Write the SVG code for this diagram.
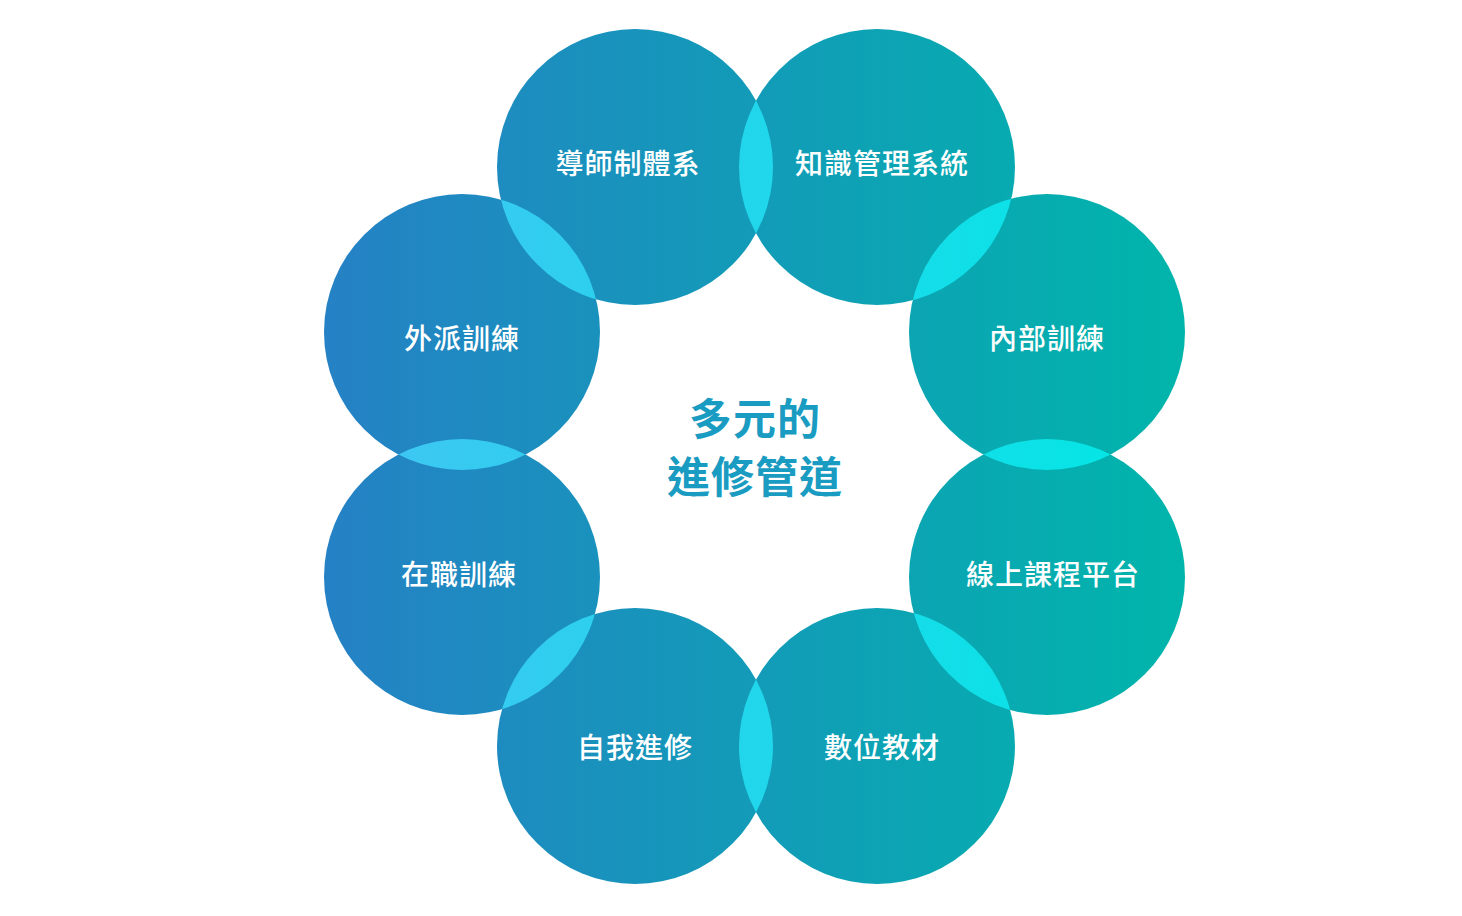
<svg xmlns="http://www.w3.org/2000/svg" width="1462" height="916" viewBox="0 0 1462 916">
<defs>
<linearGradient id="g" gradientUnits="userSpaceOnUse" x1="324" y1="0" x2="1185" y2="0">
<stop offset="0" stop-color="#2581c5"/>
<stop offset="1" stop-color="#00b5ab"/>
</linearGradient>
<linearGradient id="lg" gradientUnits="userSpaceOnUse" x1="324" y1="0" x2="1185" y2="0">
<stop offset="0" stop-color="#42c4f3"/>
<stop offset="1" stop-color="#00e8e4"/>
</linearGradient>
<clipPath id="cA"><circle cx="635" cy="167" r="138"/></clipPath>
<clipPath id="cB"><circle cx="877" cy="167" r="138"/></clipPath>
<clipPath id="cC"><circle cx="1047" cy="332" r="138"/></clipPath>
<clipPath id="cD"><circle cx="1047" cy="577" r="138"/></clipPath>
<clipPath id="cE"><circle cx="877" cy="746" r="138"/></clipPath>
<clipPath id="cF"><circle cx="635" cy="746" r="138"/></clipPath>
<clipPath id="cG"><circle cx="462" cy="577" r="138"/></clipPath>
<clipPath id="cH"><circle cx="462" cy="332" r="138"/></clipPath>
</defs>
<style>
.c{fill:url(#g)}
.l{fill:url(#lg)}
.t{fill:#ffffff;font-family:"Noto Sans CJK TC","Noto Sans CJK SC",sans-serif;font-size:28px;font-weight:500;text-anchor:middle;dominant-baseline:central;letter-spacing:1px}
.m{fill:#1a9cc2;font-family:"Noto Sans CJK TC","Noto Sans CJK SC",sans-serif;font-size:43px;font-weight:700;text-anchor:middle;dominant-baseline:central;letter-spacing:1px}
</style>
<g id="n1"><circle class="c" cx="635" cy="167" r="138"/></g>
<g id="n2"><circle class="c" cx="877" cy="167" r="138"/></g>
<g id="n3"><circle class="c" cx="1047" cy="332" r="138"/></g>
<g id="n4"><circle class="c" cx="1047" cy="577" r="138"/></g>
<g id="n5"><circle class="c" cx="877" cy="746" r="138"/></g>
<g id="n6"><circle class="c" cx="635" cy="746" r="138"/></g>
<g id="n7"><circle class="c" cx="462" cy="577" r="138"/></g>
<g id="n8"><circle class="c" cx="462" cy="332" r="138"/></g>
<g id="overlaps">
<circle class="l" cx="877" cy="167" r="138" clip-path="url(#cA)"/>
<circle class="l" cx="1047" cy="332" r="138" clip-path="url(#cB)"/>
<circle class="l" cx="1047" cy="577" r="138" clip-path="url(#cC)"/>
<circle class="l" cx="877" cy="746" r="138" clip-path="url(#cD)"/>
<circle class="l" cx="635" cy="746" r="138" clip-path="url(#cE)"/>
<circle class="l" cx="462" cy="577" r="138" clip-path="url(#cF)"/>
<circle class="l" cx="462" cy="332" r="138" clip-path="url(#cG)"/>
<circle class="l" cx="635" cy="167" r="138" clip-path="url(#cH)"/>
</g>
<g id="labels">
<text class="t" x="628" y="162">導師制體系</text>
<text class="t" x="882" y="162">知識管理系統</text>
<text class="t" x="1047" y="337">內部訓練</text>
<text class="t" x="1053" y="573">線上課程平台</text>
<text class="t" x="882" y="746">數位教材</text>
<text class="t" x="635" y="746">自我進修</text>
<text class="t" x="459" y="573">在職訓練</text>
<text class="t" x="462" y="337">外派訓練</text>
</g>
<g id="center">
<text class="m" x="755" y="416">多元的</text>
<text class="m" x="755" y="474">進修管道</text>
</g>
</svg>
